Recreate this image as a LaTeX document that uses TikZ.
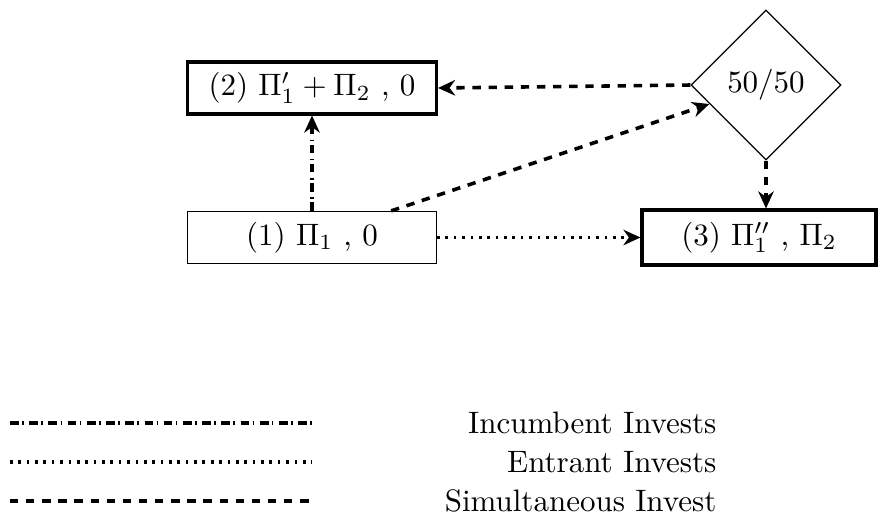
\documentclass[tikz,border=0pt]{standalone}
\usetikzlibrary{shapes.geometric,arrows.meta}
\def\u{0.3226pt}
\tikzset{
  box/.style={draw, rectangle, minimum width=249*\u, minimum height=52*\u, inner sep=0pt},
  boldbox/.style={box, line width=1pt},
  conn/.style={line width=1.15pt, -{Stealth[length=5.5pt,width=5pt]}},
  incumbent/.style={dash pattern=on 2.8pt off 1.1pt on 0.5pt off 1.8pt},
  entrant/.style={dash pattern=on 0.85pt off 1.85pt},
  simult/.style={dash pattern=on 2.7pt off 2.5pt},
  legline/.style={line width=1.15pt},
  legtext/.style={anchor=east, inner sep=0pt}
}
\begin{document}
\begin{tikzpicture}[x=0.3226pt,y=-0.3226pt]
\useasboundingbox (0,0) rectangle (878,522);
\node[boldbox] (n2) at (312,88) {(2) $\Pi_1' + \Pi_2$ , 0};
\node[box, line width=0.4pt] (n1) at (312,237.5) {(1) $\Pi_1$ , 0};
\node[boldbox, minimum width=234*\u, minimum height=55*\u] (n3) at (759,237.5) {(3) $\Pi_1''$ , $\Pi_2$};
\node[draw, diamond, minimum width=150*\u, minimum height=150*\u, inner sep=0pt, line width=0.4pt] (d) at (766,85) {50/50};
\draw[conn, incumbent] (n1.north) -- (n2.south);
\draw[conn, simult] (n1) -- (d);
\draw[conn, simult] (d.west) -- (n2.east);
\draw[conn, simult] (d.south) -- (d.south |- n3.north);
\draw[conn, entrant] (n1.east) -- (n3.west);
% legend
\coordinate (l1a) at (10,423); \coordinate (l1b) at (312,423);
\coordinate (l2a) at (10,462); \coordinate (l2b) at (312,462);
\coordinate (l3a) at (10,501); \coordinate (l3b) at (312,501);
\draw[legline, incumbent] (l1a) -- (l1b);
\draw[legline, entrant] (l2a) -- (l2b);
\draw[legline, simult] (l3a) -- (l3b);
\node[legtext] (t1) at (717,423) {Incumbent Invests};
\node[legtext] (t2) at (717,462) {Entrant Invests};
\node[legtext] (t3) at (717,501) {Simultaneous Invest};
\end{tikzpicture}
\end{document}
